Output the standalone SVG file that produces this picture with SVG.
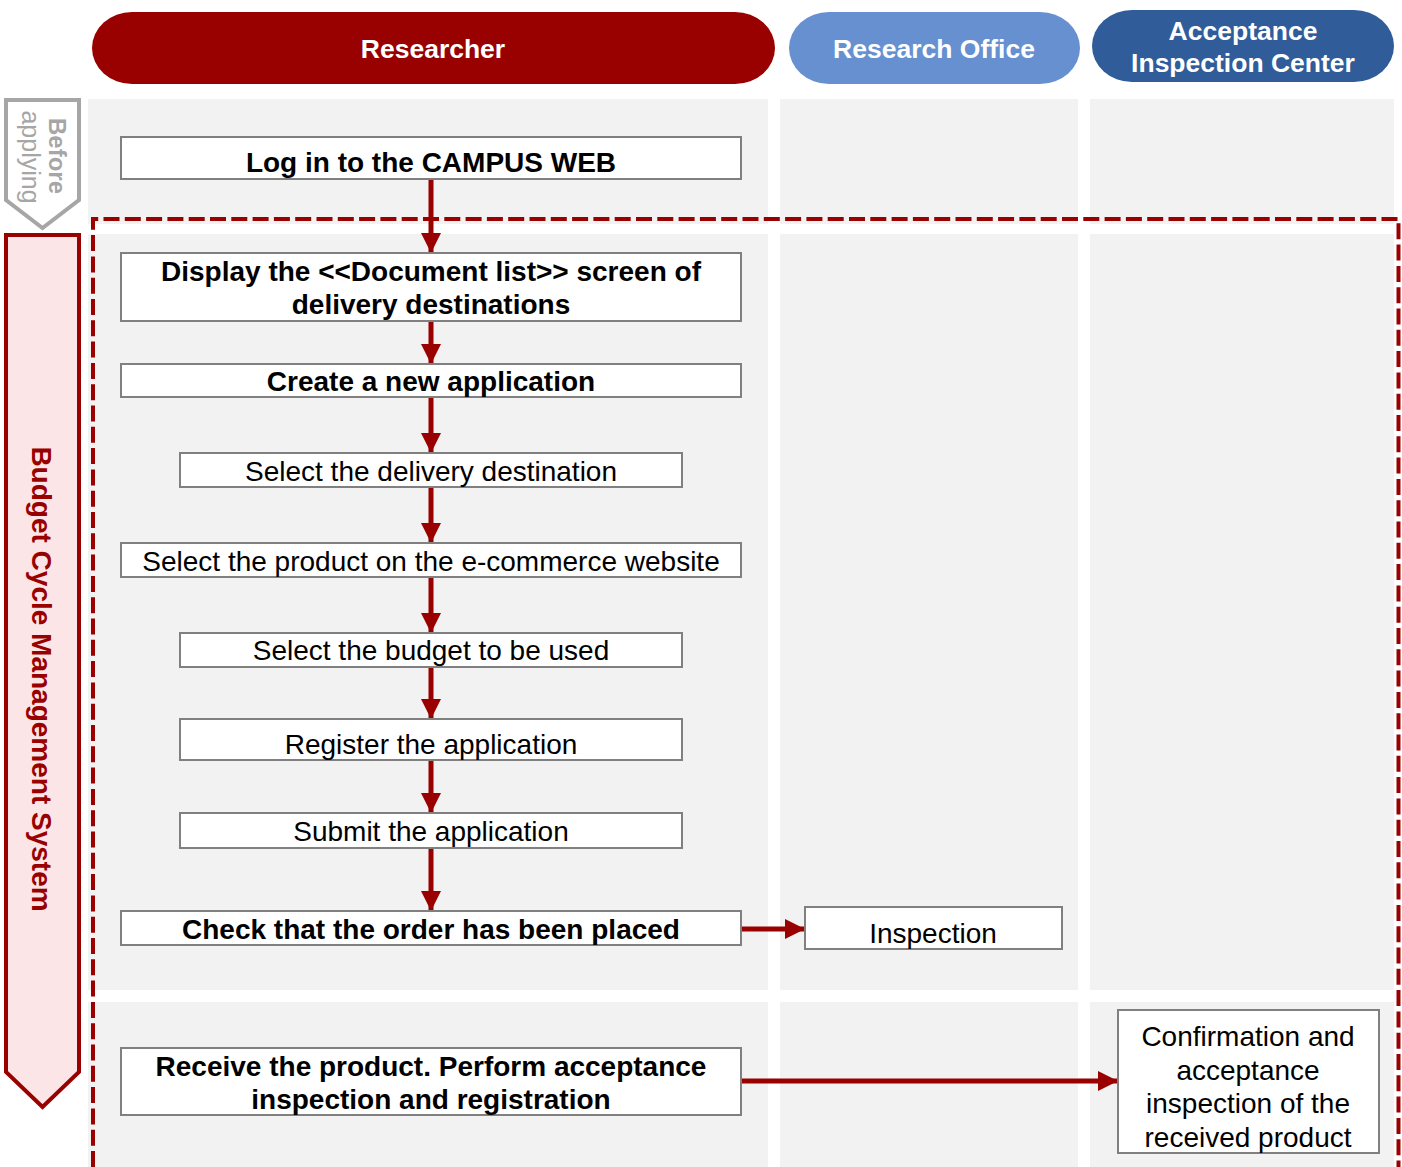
<svg xmlns="http://www.w3.org/2000/svg" width="1402" height="1167" viewBox="0 0 1402 1167">
<defs>
<style>
.lane{fill:#f2f2f2}
.box{fill:#fff;stroke:#808080;stroke-width:2}
.t{font-family:"Liberation Sans",Arial,sans-serif;font-size:28px;fill:#000;text-anchor:middle}
.b{font-weight:bold}
.hd{font-family:"Liberation Sans",Arial,sans-serif;font-size:26.5px;font-weight:bold;fill:#fff;text-anchor:middle}
.ar{stroke:#990000;stroke-width:5;fill:none;marker-end:url(#ah)}
</style>
<marker id="ah" viewBox="0 0 20 20" refX="20" refY="10" markerWidth="20" markerHeight="20" markerUnits="userSpaceOnUse" orient="auto">
<path d="M0,0 L20,10 L0,20 Z" fill="#990000"/>
</marker>
</defs>
<rect width="1402" height="1167" fill="#fff"/>
<g id="lanes">
<rect class="lane" x="88" y="99" width="680" height="125"/>
<rect class="lane" x="780" y="99" width="298" height="125"/>
<rect class="lane" x="1090" y="99" width="304" height="125"/>
<rect class="lane" x="88" y="234" width="680" height="756"/>
<rect class="lane" x="780" y="234" width="298" height="756"/>
<rect class="lane" x="1090" y="234" width="304" height="756"/>
<rect class="lane" x="88" y="1002" width="680" height="165"/>
<rect class="lane" x="780" y="1002" width="298" height="165"/>
<rect class="lane" x="1090" y="1002" width="304" height="165"/>
</g>
<g id="headers">
<g id="h-researcher"><rect x="92" y="12" width="683" height="72" rx="40" ry="36" fill="#990000"/><text class="hd" x="433" y="58">Researcher</text></g>
<g id="h-office"><rect x="789" y="12" width="291" height="72" rx="40" ry="36" fill="#6690d0"/><text class="hd" x="934" y="58">Research Office</text></g>
<g id="h-center"><rect x="1092" y="10" width="302" height="72" rx="40" ry="36" fill="#305c9a"/><text class="hd" x="1243" y="40">Acceptance</text><text class="hd" x="1243" y="72">Inspection Center</text></g>
</g>
<g id="phases">
<g id="before"><path d="M6,100 L79,100 L79,200 L42.5,228 L6,200 Z" fill="#fff" stroke="#a6a6a6" stroke-width="4"/>
<text transform="translate(49,156) rotate(90)" font-family="Liberation Sans,Arial,sans-serif" font-size="24" font-weight="bold" fill="#a6a6a6" text-anchor="middle">Before</text>
<text transform="translate(22,157) rotate(90)" font-family="Liberation Sans,Arial,sans-serif" font-size="25" fill="#a6a6a6" text-anchor="middle">applying</text></g>
<g id="budget"><path d="M6,235 L79,235 L79,1072 L42.5,1107 L6,1072 Z" fill="#fbe5e6" stroke="#990000" stroke-width="4"/>
<text transform="translate(32,679) rotate(90)" font-family="Liberation Sans,Arial,sans-serif" font-size="28" font-weight="bold" fill="#990000" text-anchor="middle">Budget Cycle Management System</text></g>
</g>
<path d="M93,1167 L93,219 L1398.5,219 L1398.5,1167" fill="none" stroke="#990000" stroke-width="4" stroke-dasharray="16,5.3"/>
<g id="connectors">
<line class="ar" x1="431" y1="179" x2="431" y2="253"/>
<line class="ar" x1="431" y1="321" x2="431" y2="364"/>
<line class="ar" x1="431" y1="397" x2="431" y2="453"/>
<line class="ar" x1="431" y1="487" x2="431" y2="543"/>
<line class="ar" x1="431" y1="577" x2="431" y2="633"/>
<line class="ar" x1="431" y1="667" x2="431" y2="719"/>
<line class="ar" x1="431" y1="760" x2="431" y2="813"/>
<line class="ar" x1="431" y1="848" x2="431" y2="911"/>
<line class="ar" x1="741" y1="929" x2="805" y2="929"/>
<line class="ar" x1="741" y1="1081" x2="1118" y2="1081"/>
</g>
<g id="n1"><rect class="box" x="121" y="137" width="620" height="42"/><text class="t b" x="431" y="172">Log in to the CAMPUS WEB</text></g>
<g id="n2"><rect class="box" x="121" y="253" width="620" height="68"/><text class="t b" x="431" y="281">Display the &lt;&lt;Document list&gt;&gt; screen of</text><text class="t b" x="431" y="314">delivery destinations</text></g>
<g id="n3"><rect class="box" x="121" y="364" width="620" height="33"/><text class="t b" x="431" y="391">Create a new application</text></g>
<g id="n4"><rect class="box" x="180" y="453" width="502" height="34"/><text class="t" x="431" y="481">Select the delivery destination</text></g>
<g id="n5"><rect class="box" x="121" y="543" width="620" height="34"/><text class="t" x="431" y="571">Select the product on the e-commerce website</text></g>
<g id="n6"><rect class="box" x="180" y="633" width="502" height="34"/><text class="t" x="431" y="660">Select the budget to be used</text></g>
<g id="n7"><rect class="box" x="180" y="719" width="502" height="41"/><text class="t" x="431" y="754">Register the application</text></g>
<g id="n8"><rect class="box" x="180" y="813" width="502" height="35"/><text class="t" x="431" y="841">Submit the application</text></g>
<g id="n9"><rect class="box" x="121" y="911" width="620" height="34"/><text class="t b" x="431" y="939">Check that the order has been placed</text></g>
<g id="n10"><rect class="box" x="805" y="907" width="257" height="42"/><text class="t" x="933" y="943">Inspection</text></g>
<g id="n11"><rect class="box" x="121" y="1048" width="620" height="67"/><text class="t b" x="431" y="1076">Receive the product. Perform acceptance</text><text class="t b" x="431" y="1109">inspection and registration</text></g>
<g id="n12"><rect class="box" x="1118" y="1010" width="261" height="143"/><text class="t" x="1248" y="1046">Confirmation and</text><text class="t" x="1248" y="1080">acceptance</text><text class="t" x="1248" y="1113">inspection of the</text><text class="t" x="1248" y="1147">received product</text></g>
</svg>
